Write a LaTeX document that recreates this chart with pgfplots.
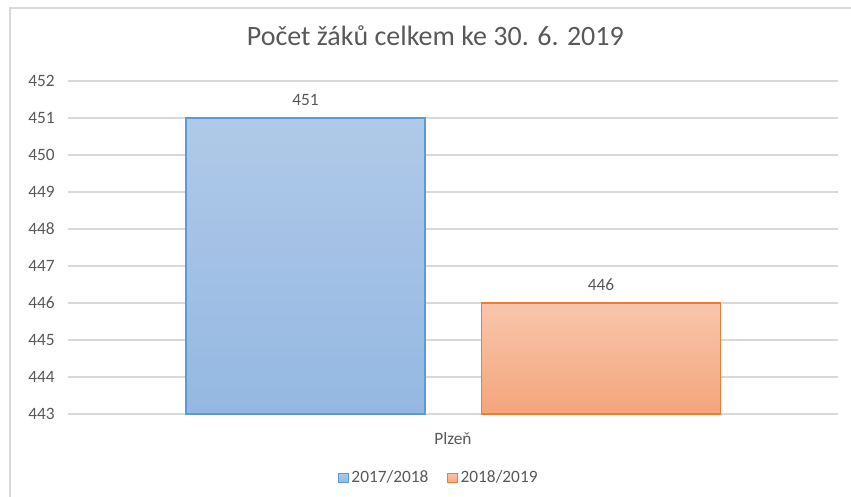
\documentclass[border=0pt]{standalone}
\usepackage{fontspec}
\setmainfont{Carlito}
\usepackage{pgfplots}
\pgfplotsset{compat=1.18}

\definecolor{txt}{HTML}{595959}
\definecolor{gridc}{HTML}{D9D9D9}
\definecolor{blueT}{HTML}{B0C9E8}
\definecolor{blueB}{HTML}{94B8E2}
\definecolor{blueE}{HTML}{5B9BD5}
\definecolor{oraT}{HTML}{F8C6AC}
\definecolor{oraB}{HTML}{F4A57C}
\definecolor{oraE}{HTML}{ED7D31}

\begin{document}
\begin{tikzpicture}
\path[use as bounding box] (0,0) rectangle (638.25pt,372.75pt);
% chart frame (only top and left edges are inside the picture)
\draw[gridc, line width=1.1pt] (7.5pt,0) -- (7.5pt,366.75pt) -- (638.25pt,366.75pt);

\begin{axis}[
  at={(51pt,62.25pt)}, anchor=south west,
  scale only axis,
  width=577.5pt, height=249.75pt,
  xmin=-385, xmax=385,
  ymin=443, ymax=452,
  y coord trafo/.code={\pgfmathparse{#1-443}},
  y coord inv trafo/.code={\pgfmathparse{#1+443}},
  ytick={443,444,...,452},
  xtick={0}, xticklabels={Plzeň},
  /pgf/number format/assume math mode=true,
  ymajorgrids=true,
  grid style={gridc, line width=0.8pt},
  axis line style={draw=none},
  major tick length=0pt,
  tick label style={font=\fontsize{13}{15}\selectfont, text=txt},
  yticklabel style={xshift=-6.5pt},
  xticklabel style={yshift=-10pt},
  title={Počet žáků celkem ke 30. 6. 2019},
  title style={font=\fontsize{21}{25}\selectfont, text=txt,
    at={(0.477,1.111)}, anchor=center},
  ybar, bar width=239, bar shift=0pt,
  point meta=rawy,
  nodes near coords,
  nodes near coords style={font=\fontsize{13}{15}\selectfont, text=txt, yshift=5.5pt},
  legend columns=2,
  legend style={draw=none, at={(0.482,-0.192)}, anchor=center,
    font=\fontsize{13}{15}\selectfont, text=txt, inner sep=1pt,
    /tikz/every even column/.append style={column sep=12pt}},
  legend image code/.code={\draw[#1, line width=0.9pt] (-2pt,-3.6pt) rectangle (5.2pt,3.6pt);},
]
\addplot[draw=blueE, line width=0.9pt, top color=blueT, bottom color=blueB]
  coordinates {(-147.5,451)};
\addplot[draw=oraE, line width=0.9pt, top color=oraT, bottom color=oraB]
  coordinates {(148,446)};
\legend{2017/2018, 2018/2019}
\end{axis}
\end{tikzpicture}
\end{document}
